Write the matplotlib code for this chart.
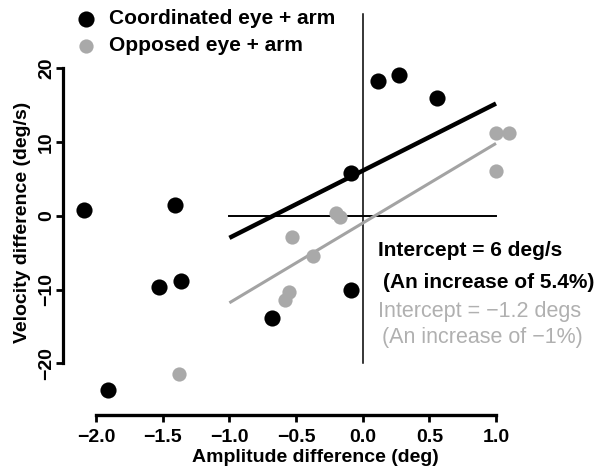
import matplotlib
matplotlib.use("Agg")
import matplotlib.pyplot as plt

plt.rcParams['font.family'] = ['Liberation Sans', 'DejaVu Sans']

# Coordinated eye + arm (black)
coord_x = [-2.09, -1.91, -1.53, -1.41, -1.36, -0.68, -0.087, -0.087, 0.113, 0.273, 0.561]
coord_y = [0.8, -23.6, -9.6, 1.4, -8.8, -13.9, 5.8, -10.1, 18.2, 19.0, 16.0]

# Opposed eye + arm (gray)
opp_x = [-1.38, -0.53, -0.37, -0.20, -0.17, -0.55, -0.58, 1.0, 1.1, 1.0]
opp_y = [-21.4, -2.9, -5.5, 0.4, -0.2, -10.3, -11.4, 11.2, 11.2, 6.1]

# Regression line endpoints
fit_x = [-1.0, 1.0]
coord_fit_y = [-3.0, 15.2]
opp_fit_y = [-11.8, 9.8]

xticks = [-2.0, -1.5, -1.0, -0.5, 0.0, 0.5, 1.0]
yticks = [-20, -10, 0, 10, 20]

W, H = 597, 476
fig = plt.figure(figsize=(W / 100, H / 100), dpi=100)
ax = fig.add_axes([63.3 / W, 1 - 415 / H, 1 - 63.3 / W, 415 / H])
ax.set_xlim(-2.246, (597 - 362.7) / 133.3)
ax.set_ylim(-27.0, 215.7 / 7.38)

black = '#000000'
gray = '#a9a9a9'

# reference lines
ax.plot([0, 0], [-20, 27.3], color=black, lw=1.1, zorder=1)
ax.plot([-1, 1], [0, 0], color=black, lw=1.4, zorder=1)

# fits
ax.plot(fit_x, opp_fit_y, color='#a3a3a3', lw=2.2, zorder=2, solid_capstyle='butt')
ax.plot(fit_x, coord_fit_y, color=black, lw=3.2, zorder=3, solid_capstyle='butt')

h1 = ax.scatter(coord_x, coord_y, s=135, color=black, zorder=4, linewidths=0,
                label='Coordinated eye + arm')
h2 = ax.scatter(opp_x, opp_y, s=105, color=gray, zorder=4, linewidths=0,
                label='Opposed eye + arm')

for s in ['top', 'right']:
    ax.spines[s].set_visible(False)
ax.spines['left'].set_bounds(-20, 20)
ax.spines['bottom'].set_bounds(-2.0, 1.0)
ax.spines['left'].set_linewidth(2.3)
ax.spines['bottom'].set_linewidth(2.4)

ax.set_xticks(xticks)
ax.set_xticklabels([f"{v:.1f}".replace('-', '\u2212') for v in xticks])
ax.set_yticks(yticks)
ax.set_yticklabels([str(v).replace('-', '\u2212') for v in yticks], rotation=90, va='center')
ax.tick_params(axis='both', direction='out', length=5, width=2.0, labelsize=14)
ax.tick_params(axis='x', pad=5)
ax.tick_params(axis='y', pad=1)
for lab in ax.get_xticklabels() + ax.get_yticklabels():
    lab.set_fontweight('bold')

fig.text(315 / W, 1 - 457 / H, 'Amplitude difference (deg)', ha='center', va='center',
         fontsize=14, fontweight='bold')
fig.text(23 / W, 1 - 222 / H, 'Velocity difference (deg/s)', ha='center', va='center',
         rotation=90, fontsize=14, fontweight='bold')

leg = fig.legend(handles=[h1, h2], loc='upper left', bbox_to_anchor=(76 / W, 1 - 9 / H),
                 frameon=False, prop={'weight': 'bold', 'size': 15},
                 handletextpad=0.6, labelspacing=0.4, borderpad=0, handlelength=1.0,
                 borderaxespad=0)

fig.text(378 / W, 1 - 251 / H, 'Intercept = 6 deg/s', ha='left', va='center',
         fontsize=15, fontweight='bold', color=black)
fig.text(383 / W, 1 - 283 / H, '(An increase of 5.4%)', ha='left', va='center',
         fontsize=15, fontweight='bold', color=black)
fig.text(378 / W, 1 - 311 / H, 'Intercept = \u22121.2 degs', ha='left', va='center',
         fontsize=15.5, color='#b0b0b0')
fig.text(382 / W, 1 - 338 / H, '(An increase of \u22121%)', ha='left', va='center',
         fontsize=15.5, color='#b0b0b0')

fig.savefig('out.png', dpi=100)
